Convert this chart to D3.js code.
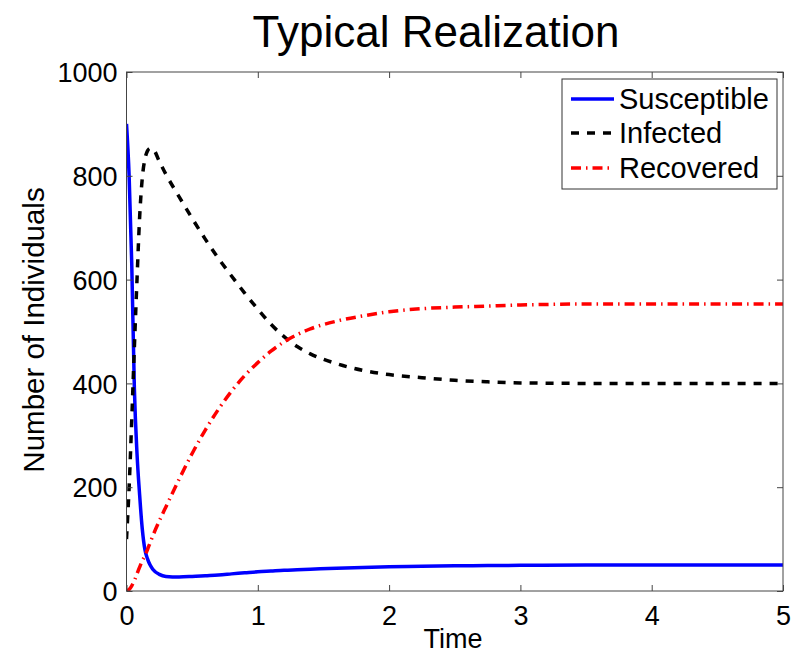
<!DOCTYPE html>
<html><head><meta charset="utf-8">
<script src="https://cdn.jsdelivr.net/npm/d3@7"></script>
<style>
html,body{margin:0;padding:0;background:#fff;}
svg{display:block;font-family:"Liberation Sans",Arial,Helvetica,sans-serif;}
</style></head>
<body><svg id="chart" width="807" height="653"></svg>
<script>
const times = [0,0.02,0.04,0.06,0.08,0.1,0.12,0.14,0.16,0.18,0.2,0.25,0.3,0.4,0.5,0.6,0.7,0.8,0.9,1.0,1.1,1.2,1.3,1.4,1.6,1.8,2.0,2.25,2.5,2.75,3.0,3.5,4.0,4.5,5.0];
const susceptible = [900,800,630,390,265,185,120,80,62,50,42,32,28,27,28,29.5,31,33,35,37,38.5,40,41,42,44,45.5,46.5,47.5,48.5,49,49.5,50,50,50,50];
const infected = [100,200,330,470,600,720,795,832,848,853,852,828,803,760,718,678,641,607,574,543,514,490,471,457,438,425,417,411,406,403,401,400,400,400,400];
const recovered = [0,3,10,20,33,46,58,68,80,93,106,135,162,215,265,310,350,385,415,440,462,480,494,505,520,530,538,544,547,549,551,553,553,553,553];
const seriesNames = ["Susceptible","Infected","Recovered"];
const xTicks = [0,1,2,3,4,5];
const yTicks = [0,200,400,600,800,1000];
const titleText = "Typical Realization";
const xLabel = "Time";
const yLabel = "Number of Individuals";

const svg = d3.select("#chart");
const L = 126.5, R = 783, T = 72, B = 591;
const x = d3.scaleLinear().domain([0,5]).range([L,R]);
const y = d3.scaleLinear().domain([0,1000]).range([B,T]);

const styles = [
  {color:"#0000ff", dash:null},
  {color:"#000000", dash:"8,8"},
  {color:"#ff0000", dash:"10,5,1.5,5"}
];
const data = [susceptible, infected, recovered];

svg.append("defs").append("clipPath").attr("id","clip")
  .append("rect").attr("x",L).attr("y",T-2).attr("width",R-L).attr("height",B-T+2);

const line = d3.line().x(d=>x(d[0])).y(d=>y(d[1])).curve(d3.curveMonotoneX);
const g = svg.append("g").attr("clip-path","url(#clip)");
data.forEach((vals,i)=>{
  g.append("path")
    .datum(times.map((t,j)=>[t,vals[j]]))
    .attr("d",line)
    .attr("fill","none")
    .attr("stroke",styles[i].color)
    .attr("stroke-width",3.5)
    .attr("stroke-dasharray",styles[i].dash);
});

const axisColor = "#444";
svg.append("rect").attr("x",L).attr("y",T).attr("width",R-L).attr("height",B-T)
  .attr("fill","none").attr("stroke",axisColor).attr("stroke-width",1);

const tickLen = 6;
const fs = 27;
const xb = svg.append("g").attr("transform",`translate(0,${B})`)
  .call(d3.axisBottom(x).tickValues(xTicks).tickSizeInner(-tickLen).tickSizeOuter(0).tickPadding(14).tickFormat(d3.format("d")));
const xt = svg.append("g").attr("transform",`translate(0,${T})`)
  .call(d3.axisTop(x).tickValues(xTicks).tickSizeInner(-tickLen).tickSizeOuter(0).tickFormat(""));
const yl = svg.append("g").attr("transform",`translate(${L},0)`)
  .call(d3.axisLeft(y).tickValues(yTicks).tickSizeInner(-tickLen).tickSizeOuter(0).tickPadding(9).tickFormat(d3.format("d")));
const yr = svg.append("g").attr("transform",`translate(${R},0)`)
  .call(d3.axisRight(y).tickValues(yTicks).tickSizeInner(-tickLen).tickSizeOuter(0).tickFormat(""));
[xb,xt,yl,yr].forEach(a=>{
  a.select(".domain").remove();
  a.selectAll(".tick line").attr("stroke",axisColor);
  a.selectAll(".tick text").attr("fill","#000").style("font-size",fs+"px").style("font-family","'Liberation Sans',Arial,sans-serif");
});
xb.selectAll(".tick text").attr("dy","0.75em");
yl.selectAll(".tick text").attr("dy","0.36em");

svg.append("text").attr("x",436).attr("y",47).attr("text-anchor","middle")
  .style("font-size","44px").attr("fill","#000").text(titleText);
svg.append("text").attr("x",453).attr("y",648).attr("text-anchor","middle")
  .style("font-size","27px").attr("fill","#000").text(xLabel);
svg.append("text").attr("transform","translate(44,330) rotate(-90)").attr("text-anchor","middle")
  .style("font-size","29.5px").attr("fill","#000").text(yLabel);

const lg = svg.append("g");
lg.append("rect").attr("x",562).attr("y",79).attr("width",215).attr("height",110)
  .attr("fill","#fff").attr("stroke","#333").attr("stroke-width",1);
const rowY = [99,133,168];
seriesNames.forEach((n,i)=>{
  lg.append("line").attr("x1",571).attr("x2",614).attr("y1",rowY[i]).attr("y2",rowY[i])
    .attr("stroke",styles[i].color).attr("stroke-width",3.5)
    .attr("stroke-dasharray",styles[i].dash);
  lg.append("text").attr("x",619).attr("y",rowY[i]).attr("dy","0.36em")
    .style("font-size","29px").attr("fill","#000").text(n);
});
</script></body></html>
